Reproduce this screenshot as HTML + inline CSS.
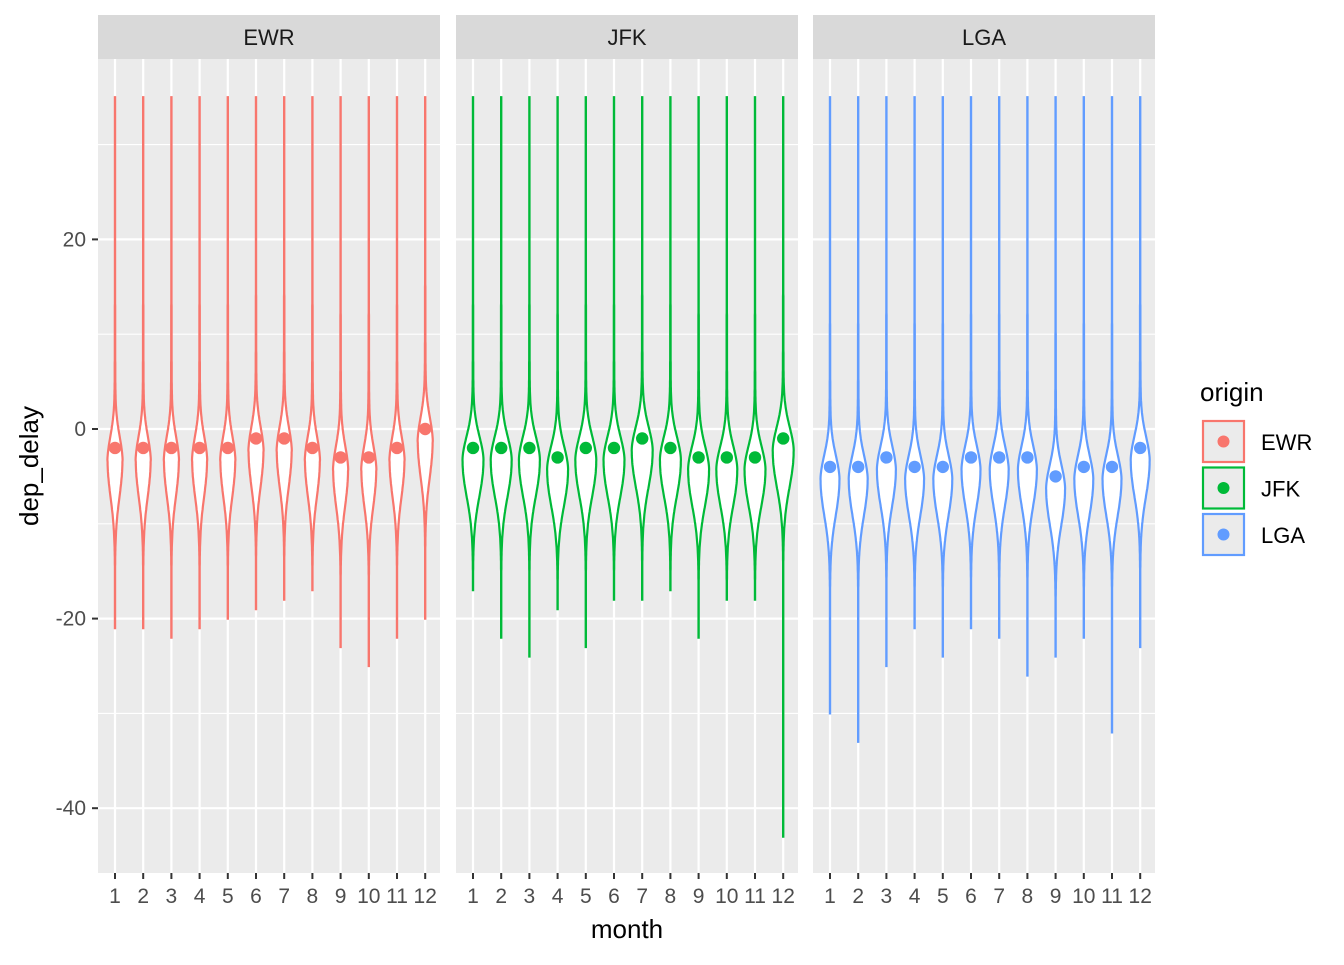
<!DOCTYPE html><html><head><style>body{margin:0;background:#fff}</style></head><body>
<svg id="s" width="1344" height="960" xmlns="http://www.w3.org/2000/svg" font-family="Liberation Sans, sans-serif"></svg>
<script>
const s=document.getElementById('s');let h='';
const Y=v=>429-v*9.48;
const panels=[
{n:'EWR',x0:98,x1:440,c:'#F8766D',w:7,m:[-2,-2,-2,-2,-2,-1,-1,-2,-3,-3,-2,0],b:[-21,-21,-22,-21,-20,-19,-18,-17,-23,-25,-22,-20]},
{n:'JFK',x0:456,x1:798,c:'#00BA38',w:10,m:[-2,-2,-2,-3,-2,-2,-1,-2,-3,-3,-3,-1],b:[-17,-22,-24,-19,-23,-18,-18,-17,-22,-18,-18,-43]},
{n:'LGA',x0:813,x1:1155,c:'#619CFF',w:9,m:[-4,-4,-3,-4,-4,-3,-3,-3,-5,-4,-4,-2],b:[-30,-33,-25,-21,-24,-21,-22,-26,-24,-22,-32,-23]}];
panels.forEach(p=>{
h+=`<rect x="${p.x0}" y="59" width="${p.x1-p.x0}" height="814" fill="#EBEBEB"/>`;
h+=`<rect x="${p.x0}" y="15" width="${p.x1-p.x0}" height="44" fill="#D9D9D9"/>`;
h+=`<text x="${(p.x0+p.x1)/2}" y="45" font-size="22" text-anchor="middle" fill="#1A1A1A">${p.n}</text>`;
[30,10,-10,-30].forEach(v=>h+=`<line x1="${p.x0}" x2="${p.x1}" y1="${Y(v)}" y2="${Y(v)}" stroke="#fff" stroke-width="1.1"/>`);
[20,0,-20,-40].forEach(v=>h+=`<line x1="${p.x0}" x2="${p.x1}" y1="${Y(v)}" y2="${Y(v)}" stroke="#fff" stroke-width="2.2"/>`);
for(let i=0;i<12;i++){const x=p.x0+17+i*28.2;
h+=`<line x1="${x}" x2="${x}" y1="59" y2="873" stroke="#fff" stroke-width="2.2"/>`;
h+=`<line x1="${x}" x2="${x}" y1="873" y2="879" stroke="#333" stroke-width="2"/>`;
h+=`<text x="${x}" y="903" font-size="21" text-anchor="middle" fill="#4D4D4D">${i+1}</text>`;
const c=p.m[i]-1.5;let L=[],R=[];
for(let v=35;v>=p.b[i];v-=0.25){const d=v-c;let w=p.w*Math.exp(-Math.pow(d/(d>0?3.8:5.2),2))+ (d>0?0.6*Math.exp(-d/12):0.4*Math.exp(d/6));w=Math.max(w,0.1);L.push([x-w,Y(v)]);R.push([x+w,Y(v)]);}
const pts=L.concat(R.reverse()).map(q=>q[0].toFixed(1)+','+q[1].toFixed(1)).join(' ');
h+=`<polygon points="${pts}" fill="#fff" stroke="${p.c}" stroke-width="2.2"/>`;
h+=`<circle cx="${x}" cy="${Y(p.m[i])}" r="6.2" fill="${p.c}"/>`;}
});
[[20,'20'],[0,'0'],[-20,'-20'],[-40,'-40']].forEach(t=>{h+=`<line x1="92" x2="98" y1="${Y(t[0])}" y2="${Y(t[0])}" stroke="#333" stroke-width="2"/><text x="86" y="${Y(t[0])+7}" font-size="21" text-anchor="end" fill="#4D4D4D">${t[1]}</text>`});
h+=`<text x="627" y="938" font-size="26" text-anchor="middle" fill="#000">month</text>`;
h+=`<text transform="translate(38,466) rotate(-90)" font-size="26" text-anchor="middle" fill="#000">dep_delay</text>`;
h+=`<text x="1200" y="401" font-size="26" fill="#000">origin</text>`;
panels.forEach((p,k)=>{const y=421+k*46.5;
h+=`<rect x="1203" y="${y}" width="41" height="41" fill="#EBEBEB" stroke="${p.c}" stroke-width="2.2"/><circle cx="1223.5" cy="${y+20.5}" r="6" fill="${p.c}"/><text x="1261" y="${y+29}" font-size="22" fill="#000">${p.n}</text>`});
s.innerHTML=h;
</script></body></html>
